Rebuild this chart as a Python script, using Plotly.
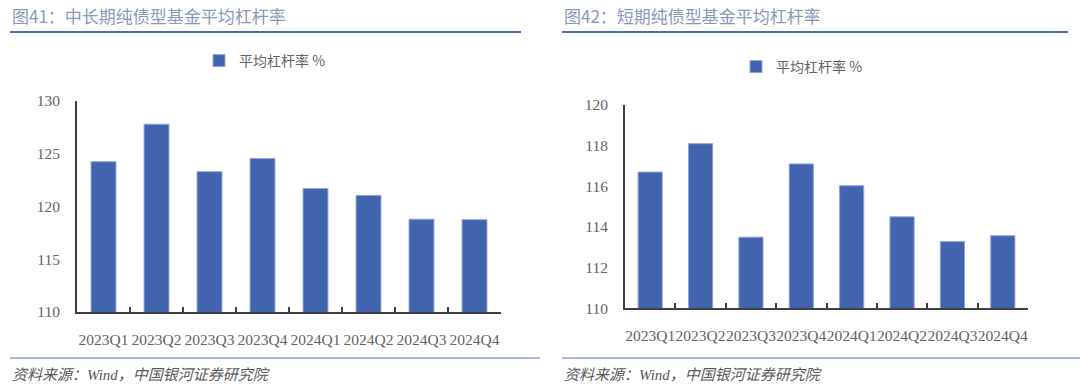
import plotly.graph_objects as go

categories = ["2023Q1", "2023Q2", "2023Q3", "2023Q4", "2024Q1", "2024Q2", "2024Q3", "2024Q4"]
mid_long_leverage = [124.25, 127.8, 123.3, 124.55, 121.7, 121.05, 118.8, 118.75]
short_leverage = [116.7, 118.1, 113.5, 117.1, 116.03, 114.5, 113.28, 113.57]
series_name = "平均杠杆率 %"
title_left = "图41：中长期纯债型基金平均杠杆率"
title_right = "图42：短期纯债型基金平均杠杆率"
source_text = "资料来源：Wind，中国银河证券研究院"

W, H = 1080, 388
BAR = "#4263AE"
TXT = "#636363"
AX = "#404040"
SERIF = "Liberation Serif, Noto Sans CJK SC"
CJK = "Noto Sans CJK SC"

def px(x):
    return x / W

def py(y):
    return (H - y) / H

fig = go.Figure()
fig.add_trace(go.Bar(x=categories, y=mid_long_leverage, name=series_name,
                     marker=dict(color=BAR, line=dict(color="#8fa6d6", width=1)),
                     xaxis="x", yaxis="y", legend="legend", width=0.47))
fig.add_trace(go.Bar(x=categories, y=short_leverage, name=series_name,
                     marker=dict(color=BAR, line=dict(color="#8fa6d6", width=1)),
                     xaxis="x2", yaxis="y2", legend="legend2", width=0.48))

xcommon = dict(showline=True, linecolor=AX, linewidth=2, ticks="inside", tickson="boundaries",
               ticklen=5, tickwidth=2, tickcolor=AX, showgrid=False, zeroline=False,
               tickangle=0, automargin=False, ticklabelstandoff=12,
               tickfont=dict(family=SERIF, size=15.5, color=TXT), fixedrange=True)
ycommon = dict(showline=True, linecolor=AX, linewidth=2, ticks="", showgrid=False, zeroline=False,
               automargin=False, ticklabelstandoff=12,
               tickfont=dict(family=SERIF, size=15.5, color=TXT), fixedrange=True)

fig.update_layout(
    width=W, height=H,
    margin=dict(l=0, r=0, t=0, b=0, pad=0, autoexpand=False),
    paper_bgcolor="white", plot_bgcolor="white",
    xaxis=dict(domain=[px(77), px(501)], anchor="y", **xcommon),
    yaxis=dict(domain=[py(312), py(101)], range=[110, 130], dtick=5, anchor="x", **ycommon),
    xaxis2=dict(domain=[px(625), px(1028)], anchor="y2", **xcommon),
    yaxis2=dict(domain=[py(308.3), py(105)], range=[110, 120], dtick=2, anchor="x2", **ycommon),
    legend=dict(x=px(199), y=py(61), xanchor="left", yanchor="middle",
                font=dict(family=CJK, size=14, color=TXT), bgcolor="rgba(0,0,0,0)"),
    legend2=dict(x=px(736), y=py(67), xanchor="left", yanchor="middle",
                 font=dict(family=CJK, size=14, color=TXT), bgcolor="rgba(0,0,0,0)"),
    showlegend=True,
)

# titles
fig.add_annotation(text=title_left, x=px(10), y=py(16), xref="paper", yref="paper",
                   xanchor="left", yanchor="middle", showarrow=False,
                   font=dict(family=CJK, size=17, color="#8b98bd"))
fig.add_annotation(text=title_right, x=px(562), y=py(16), xref="paper", yref="paper",
                   xanchor="left", yanchor="middle", showarrow=False,
                   font=dict(family=CJK, size=17, color="#8b98bd"))
# sources
for x0 in (10, 562):
    fig.add_annotation(text=source_text, x=px(x0), y=py(375), xref="paper", yref="paper",
                       xanchor="left", yanchor="middle", showarrow=False,
                       font=dict(family=SERIF, size=15, color="#595959", style="italic"))

# separator lines
for (x0, x1) in ((10, 521), (562, 1068)):
    fig.add_shape(type="line", xref="paper", yref="paper", x0=px(x0), x1=px(x1),
                  y0=py(32), y1=py(32), line=dict(color="#4a6cb3", width=2))
    fig.add_shape(type="line", xref="paper", yref="paper", x0=px(x0), x1=px(x1 + 19),
                  y0=py(358), y1=py(358), line=dict(color="#8ea3d3", width=1.5))

fig.write_html("out.html", config={"displayModeBar": False},
               post_script="document.body.style.margin='0';")
